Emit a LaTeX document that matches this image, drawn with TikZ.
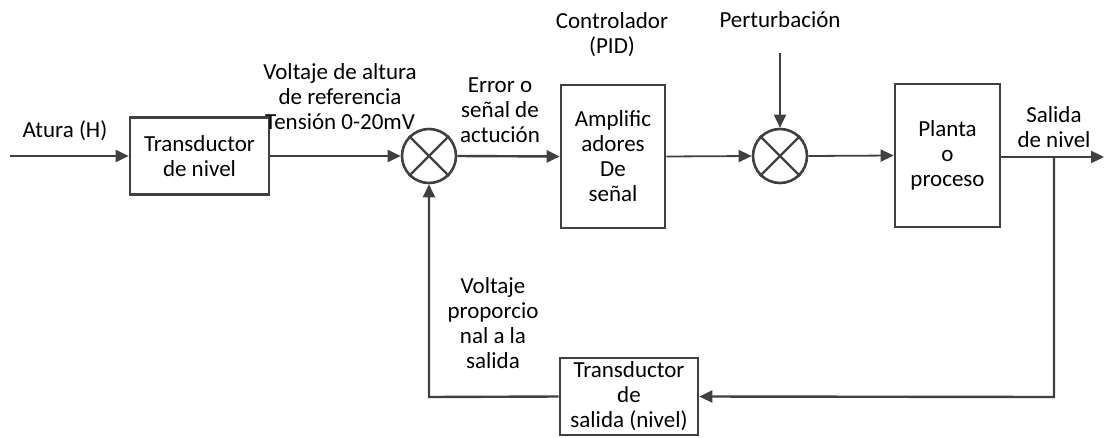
\documentclass[tikz,border=0pt]{standalone}
\usepackage{fontspec}
\setmainfont{Carlito}
\usetikzlibrary{arrows.meta}
\definecolor{ln}{HTML}{404040}
\begin{document}
\begin{tikzpicture}[x=1pt,y=-1pt,
  font=\fontsize{23}{25}\selectfont,
  blk/.style={draw=ln,line width=2.6pt,inner sep=1pt,align=center},
  sumnode/.style={draw=ln,line width=2.6pt,circle,minimum size=54pt,inner sep=0pt},
  lbl/.style={align=center,inner sep=0pt},
  conn/.style={draw=ln,line width=2.4pt,-{Triangle[length=13pt,width=12pt]}},
  plain/.style={draw=ln,line width=2.4pt}]
\useasboundingbox (0,0) rectangle (1104,437);
\node[blk,minimum width=139pt,minimum height=77pt] (t1) at (199.5,156) {Transductor\\de nivel};
\node[sumnode] (s1) at (429,156) {};
\node[blk,minimum width=104pt,minimum height=143pt] (amp) at (613,156.5) {Amplific\\adores\\De\\señal};
\node[sumnode] (s2) at (780,156) {};
\node[blk,minimum width=105pt,minimum height=143pt] (pl) at (947.5,155.5) {Planta\\o\\proceso};
\node[blk,minimum width=138pt,minimum height=77pt] (t2) at (629,396.5) {Transductor\\de\\salida (nivel)};
\foreach \s in {s1,s2}{
  \draw[plain] (\s.45) -- (\s.225);
  \draw[plain] (\s.135) -- (\s.315);
}
\coordinate (in) at (10,156);
\coordinate (pert) at (780,53);
\coordinate (out) at (1104,157);
\coordinate (br) at (1054,157);
\coordinate (brd) at (1054,397);
\coordinate (fbl) at (429,397);
\draw[conn] (in) -- (t1.west);
\draw[conn] (t1.east) -- (s1.west);
\draw[conn] (s1.east) -- (amp.west);
\draw[conn,line width=1.8pt] (amp.east) -- (s2.west);
\draw[conn,line width=1.8pt] (pert) -- (s2.north);
\draw[conn,line width=1.8pt] (s2.east) -- (pl.west);
\draw[conn] (pl.east |- out) -- (out);
\draw[conn] (br) -- (brd) -- (t2.east);
\draw[conn] (t2.west) -- (fbl) -- (s1.south);
\node[lbl] (la) at (65,131) {Atura (H)};
\node[lbl] (lv) at (340,97) {Voltaje de altura\\de referencia\\Tensión 0-20mV};
\node[lbl] (le) at (500,110) {Error o\\señal de\\actución};
\node[lbl] (lc) at (612,35) {Controlador\\(PID)};
\node[lbl] (lp) at (780,20) {Perturbación};
\node[lbl] (ls) at (1054,127) {Salida\\de nivel};
\node[lbl] (lf) at (493,323) {Voltaje\\proporcio\\nal a la\\salida};
\end{tikzpicture}
\end{document}
